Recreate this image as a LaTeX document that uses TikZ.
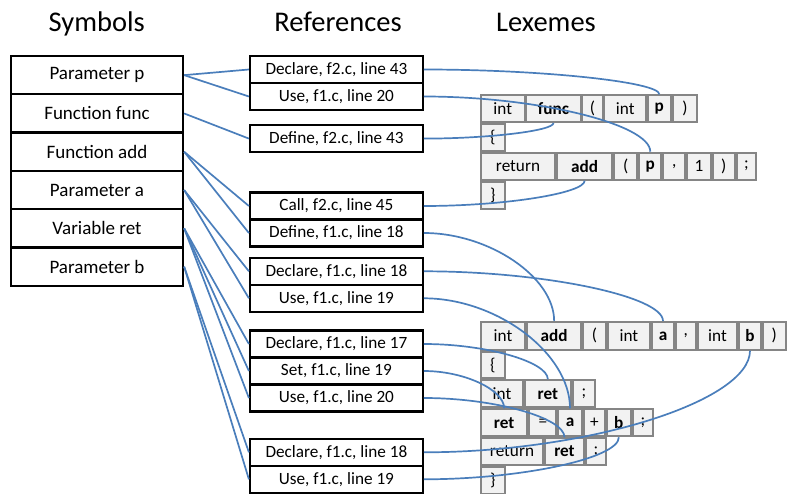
\documentclass[tikz,border=0pt]{standalone}
\usepackage{fontspec}
\setmainfont{Carlito}
\usetikzlibrary{calc}
\definecolor{linkblue}{HTML}{4A7EBB}
\definecolor{lexgray}{HTML}{858585}
\definecolor{lexfill}{HTML}{F2F2F2}
% one lexeme cell: name, left, right, top, bottom, text
\newcommand\lexcell[6]{%
  \filldraw[lexpaint] ({#2+0.9},{#4+0.9}) rectangle ({#3-0.9},{#5-0.9});%
  \pgfmathsetmacro\lexw{#3-#2}%
  \pgfmathsetmacro\lexh{#5-#4}%
  \node[lextext, minimum width=\lexw pt, minimum height=\lexh pt] (#1) at ({(#2+#3)/2},{(#4+#5)/2}) {#6};}
\begin{document}
\begin{tikzpicture}[x=1pt,y=-1pt,
  symbox/.style={draw=black, line width=2.3pt, fill=white, minimum width=172pt,
    minimum height=38.3pt, inner sep=0pt, font=\fontsize{19}{21}\selectfont},
  refbox/.style={draw=black, line width=2.3pt, fill=white, minimum width=172.7pt,
    minimum height=27pt, inner sep=0pt, font=\fontsize{17.2}{19}\selectfont},
  lexpaint/.style={draw=lexgray, fill=lexfill, line width=2pt},
  lextext/.style={inner sep=0pt, outer sep=0pt, font=\fontsize{17.2}{19}\selectfont},
  link/.style={draw=linkblue, line width=1.7pt},
  curveto/.style={to path={let \p1=(\tikztostart), \p2=(\tikztotarget) in
    .. controls ({(\x1+\x2)/2},\y1) and (\x2,{(\y1+\y2)/2}) .. (\tikztotarget)}},
  head/.style={font=\fontsize{28.5}{30}\selectfont, anchor=base}]

\useasboundingbox (0,0) rectangle (787,494);

% column titles
\node[head] (hsym) at (96.7,32) {Symbols};
\node[head] (href) at (338,32) {References};
\node[head] (hlex) at (546,32) {Lexemes};

% symbol table
\node[symbox] (s1) at (97,75.15)  {Parameter p};
\node[symbox] (s2) at (97,113.45) {Function func};
\node[symbox] (s3) at (97,151.75) {Function add};
\node[symbox] (s4) at (97,190.05) {Parameter a};
\node[symbox] (s5) at (97,228.35) {Variable ret};
\node[symbox] (s6) at (97,266.65) {Parameter b};

% references
\node[refbox] (r1)  at (336.4,69.5)  {Declare, f2.c, line 43};
\node[refbox] (r2)  at (336.4,96.5)  {Use, f1.c, line 20};
\node[refbox] (r3)  at (336.4,138.6) {Define, f2.c, line 43};
\node[refbox] (r4)  at (336.4,206)   {Call, f2.c, line 45};
\node[refbox] (r5)  at (336.4,233)   {Define, f1.c, line 18};
\node[refbox] (r6)  at (336.4,271.3) {Declare, f1.c, line 18};
\node[refbox] (r7)  at (336.4,298.3) {Use, f1.c, line 19};
\node[refbox] (r8)  at (336.4,344)   {Declare, f1.c, line 17};
\node[refbox] (r9)  at (336.4,371)   {Set, f1.c, line 19};
\node[refbox] (r10) at (336.4,398)   {Use, f1.c, line 20};
\node[refbox] (r11) at (336.4,452.3) {Declare, f1.c, line 18};
\node[refbox] (r12) at (336.4,479.3) {Use, f1.c, line 19};

% lexemes of f2.c
\lexcell{a1}{480}{525.5}{94.3}{123}{int}
\lexcell{a2}{525.5}{581.5}{94.3}{123}{\textbf{func}}
\lexcell{a3}{581.5}{603.5}{94.3}{123}{(}
\lexcell{a4}{603.5}{647}{94.3}{123}{int}
\lexcell{a5}{647}{671.7}{94.3}{123}{\textbf{p}}
\lexcell{a6}{671.7}{698.3}{94.3}{123}{)}
\lexcell{b1}{480}{505.7}{123}{151.7}{\{}
\lexcell{c1}{480}{556}{151.7}{180.7}{return}
\lexcell{c2}{556}{613.3}{151.7}{180.7}{\textbf{add}}
\lexcell{c3}{613.3}{638.3}{151.7}{180.7}{(}
\lexcell{c4}{638.3}{662.3}{151.7}{180.7}{\textbf{p}}
\lexcell{c5}{662.3}{686}{151.7}{180.7}{,}
\lexcell{c6}{686}{711.7}{151.7}{180.7}{1}
\lexcell{c7}{711.7}{735.7}{151.7}{180.7}{)}
\lexcell{c8}{735.7}{757.3}{151.7}{180.7}{;}
\lexcell{d1}{480}{505.7}{180.7}{209.7}{\}}

% lexemes of f1.c
\lexcell{e1}{480}{526}{321}{350.7}{int}
\lexcell{e2}{526}{582.3}{321}{350.7}{\textbf{add}}
\lexcell{e3}{582.3}{606.7}{321}{350.7}{(}
\lexcell{e4}{606.7}{651}{321}{350.7}{int}
\lexcell{e5}{651}{675}{321}{350.7}{\textbf{a}}
\lexcell{e6}{675}{696.7}{321}{350.7}{,}
\lexcell{e7}{696.7}{738.3}{321}{350.7}{int}
\lexcell{e8}{738.3}{761.7}{321}{350.7}{\textbf{b}}
\lexcell{e9}{761.7}{786.7}{321}{350.7}{)}
\lexcell{f1}{480}{505.7}{350.7}{379.3}{\{}
\lexcell{g1}{480}{524}{379.3}{408.3}{int}
\lexcell{g2}{524}{571.7}{379.3}{408.3}{\textbf{ret}}
\lexcell{g3}{571.7}{596}{379.3}{408.3}{;}
\lexcell{h1}{480}{528.3}{408.3}{437.3}{\textbf{ret}}
\lexcell{h2}{528.3}{557.3}{408.3}{437.3}{=}
\lexcell{h3}{557.3}{582.7}{408.3}{437.3}{\textbf{a}}
\lexcell{h4}{582.7}{606}{408.3}{437.3}{+}
\lexcell{h5}{606}{631.7}{408.3}{437.3}{\textbf{b}}
\lexcell{h6}{631.7}{654.3}{408.3}{437.3}{;}
\lexcell{i1}{480}{544}{437.3}{465.7}{return}
\lexcell{i2}{544}{585}{437.3}{465.7}{\textbf{ret}}
\lexcell{i3}{585}{606.7}{437.3}{465.7}{;}
\lexcell{j1}{480}{505.7}{465.7}{494.5}{\}}

% symbols to their references
\draw[link] (s1.east) -- (r1.west);
\draw[link] (s1.east) -- (r2.west);
\draw[link] (s2.east) -- (r3.west);
\draw[link] (s3.east) -- (r4.west);
\draw[link] (s3.east) -- (r5.west);
\draw[link] (s4.east) -- (r6.west);
\draw[link] (s4.east) -- (r7.west);
\draw[link] (s5.east) -- (r8.west);
\draw[link] (s5.east) -- (r9.west);
\draw[link] (s5.east) -- (r10.west);
\draw[link] (s6.east) -- (r11.west);
\draw[link] (s6.east) -- (r12.west);

% references to lexemes
\draw[link] (r1.east)  to[curveto] (a5.north);
\draw[link] (r2.east)  to[curveto] (c4.north);
\draw[link] (r3.east)  to[curveto] (a2.south);
\draw[link] (r4.east)  to[curveto] (c2.south);
\draw[link] (r5.east)  to[curveto] (e2.north);
\draw[link] (r6.east)  to[curveto] (e5.north);
\draw[link] (r7.east)  to[curveto] (h3.north);
\draw[link] (r8.east)  to[curveto] (g2.north);
\draw[link] (r9.east)  to[curveto] (h1.north);
\draw[link] (r10.east) to[curveto] (i2.north);
\draw[link] (r11.east) to[curveto] (e8.south);
\draw[link] (r12.east) to[curveto] (h5.south);
\end{tikzpicture}
\end{document}
